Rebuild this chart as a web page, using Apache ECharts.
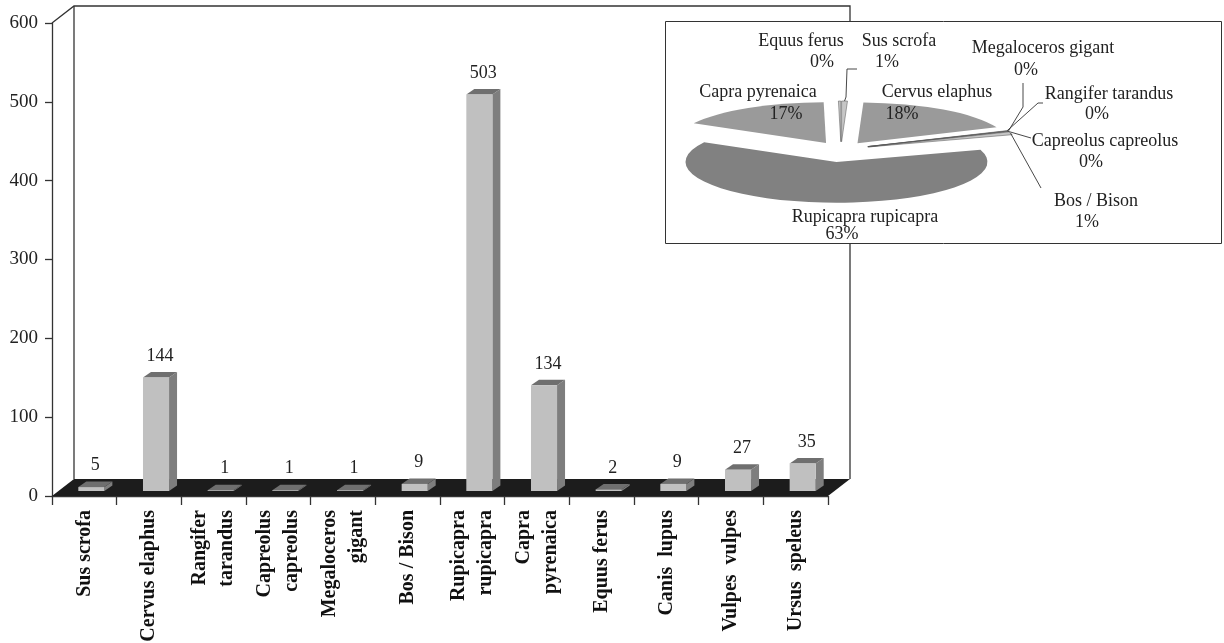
<!DOCTYPE html>
<html>
<head>
<meta charset="utf-8">
<script src="https://cdn.jsdelivr.net/npm/echarts@6/dist/echarts.min.js"></script>
<style>
  html, body { margin: 0; padding: 0; background: #fff; }
  #chart { width: 1224px; height: 643px; }
</style>
</head>
<body>
<div id="chart"></div>
<script>
// ---- data ----
const categories = ['Sus scrofa', 'Cervus elaphus', 'Rangifer\ntarandus', 'Capreolus\ncapreolus',
  'Megaloceros\ngigant', 'Bos / Bison', 'Rupicapra\nrupicapra', 'Capra\npyrenaica',
  'Equus ferus', 'Canis  lupus', 'Vulpes  vulpes', 'Ursus  speleus'];
const counts = [5, 144, 1, 1, 1, 9, 503, 134, 2, 9, 27, 35];
const yMin = 0, yMax = 600, yStep = 100;

// herbivores only, clockwise from 12 o'clock
const pieNames = ['Sus scrofa', 'Cervus elaphus', 'Rangifer tarandus', 'Capreolus capreolus',
  'Megaloceros gigant', 'Bos / Bison', 'Rupicapra rupicapra', 'Capra pyrenaica', 'Equus ferus'];
const pieValues = [5, 144, 1, 1, 1, 9, 503, 134, 2];

// ---- styling / layout ----
const SERIF = "'Liberation Serif', 'Times New Roman', serif";
const DEPTH = { dx: 22, dy: 17 };          // floor / wall depth
const BAR = { dx: 8, dy: 5.5, lift: 5 };   // bar depth and its position in the floor
const PIE = { cx: 841, cy: 149.6, r: 151, k: 0.27 };
const pieExplode = [29, 29, 29, 29, 29, 29, 46, 29, 29];
const pieFill = ['#c6c6c6', '#9a9a9a', '#c6c6c6', '#c6c6c6', '#c6c6c6', '#c6c6c6', '#818181', '#9a9a9a', '#c6c6c6'];
const pieNamePos = [[899, 41], [937, 92], [1109, 94], [1105, 141], [1043, 48], [1096, 201], [865, 217], [758, 92], [801, 41]];
const piePctPos = [[887, 62], [902, 114], [1097, 114], [1091, 162], [1026, 70], [1087, 222], [842, 234], [786, 114], [822, 62]];
const pieLeader = [[[857, 69], [847, 69], [846, 97]], null, [[1043, 103], [1038, 103]], [[1031, 138]],
  [[1023, 83], [1023, 107]], [[1041, 188]], null, null, null];

const pieTotal = pieValues.reduce((a, b) => a + b, 0);
const pieStart = [];
pieValues.reduce((acc, v) => { pieStart.push(90 - acc / pieTotal * 360); return acc + v; }, 0);

function textEl(x, y, text, opt) {
  return {
    type: 'text', x: x, y: y,
    style: Object.assign({
      text: text, fill: '#222', fontFamily: SERIF, fontSize: 18,
      textAlign: 'center', textVerticalAlign: 'middle', align: 'center', verticalAlign: 'middle'
    }, opt || {})
  };
}

// back wall and dark floor of the 3-D plot area
function renderFrame(params) {
  const cs = params.coordSys;
  const L = cs.x, R = cs.x + cs.width, T = cs.y, B = cs.y + cs.height;
  const dx = DEPTH.dx, dy = DEPTH.dy;
  const line = { stroke: '#333', lineWidth: 1.3, fill: null };
  return {
    type: 'group',
    children: [
      { type: 'polygon', shape: { points: [[L, B], [R, B], [R + dx, B - dy], [L + dx, B - dy]] }, style: { fill: '#1c1c1c' } },
      { type: 'polyline', shape: { points: [[L, T], [L + dx, T - dy], [R + dx, T - dy], [R + dx, B - dy]] }, style: line },
      { type: 'line', shape: { x1: L + dx, y1: T - dy, x2: L + dx, y2: B - dy }, style: line }
    ]
  };
}

// 3-D column: front face, side, top and the value above it
function renderBar(params, api) {
  const i = api.value(0), v = api.value(1);
  const base = api.coord([i, 0]);
  const top = api.coord([i, v]);
  const band = api.size([1, 0])[0];
  const x0 = base[0] - band * 0.093, x1 = base[0] + band * 0.31;
  const yb = base[1] - BAR.lift, yt = top[1] - BAR.lift;
  const dx = BAR.dx, dy = BAR.dy;
  return {
    type: 'group',
    children: [
      { type: 'polygon', shape: { points: [[x1, yb], [x1, yt], [x1 + dx, yt - dy], [x1 + dx, yb - dy]] }, style: { fill: '#7e7e7e' } },
      { type: 'polygon', shape: { points: [[x0, yt], [x1, yt], [x1 + dx, yt - dy], [x0 + dx, yt - dy]] }, style: { fill: '#6f6f6f' } },
      { type: 'rect', shape: { x: x0, y: yt, width: x1 - x0, height: Math.max(yb - yt, 0.8) }, style: { fill: '#c0c0c0' } },
      textEl((x0 + x1) / 2 + 4, yt - dy - 7, String(v), { textVerticalAlign: 'bottom', verticalAlign: 'bottom' })
    ]
  };
}

// tilted, exploded pie drawn as squashed sectors
function renderPie(params, api) {
  const idx = params.dataIndex;
  const v = api.value(0);
  const a0 = pieStart[idx];
  const a1 = a0 - v / pieTotal * 360;
  const mid = (a0 + a1) / 2 * Math.PI / 180;
  const d = pieExplode[idx];
  const rad = Math.PI / 180;
  const small = v / pieTotal < 0.02;
  const children = [{
    type: 'group', x: PIE.cx, y: PIE.cy, scaleY: PIE.k,
    children: [{
      type: 'sector',
      shape: { cx: d * Math.cos(mid), cy: -d * Math.sin(mid), r: PIE.r, r0: 0,
        startAngle: -a0 * rad, endAngle: -a1 * rad, clockwise: true },
      style: { fill: pieFill[idx], stroke: small ? '#555' : null, lineWidth: small ? 0.8 : 0 }
    }]
  }];
  const tip = [PIE.cx + (d + PIE.r) * Math.cos(mid), PIE.cy - (d + PIE.r) * Math.sin(mid) * PIE.k];
  if (pieLeader[idx]) {
    children.push({ type: 'polyline', shape: { points: pieLeader[idx].concat([tip]) },
      style: { stroke: '#333', lineWidth: 0.9, fill: null } });
  }
  children.push(textEl(pieNamePos[idx][0], pieNamePos[idx][1], pieNames[idx]));
  children.push(textEl(piePctPos[idx][0], piePctPos[idx][1], Math.round(v / pieTotal * 100) + '%'));
  return { type: 'group', children: children };
}

const chart = echarts.init(document.getElementById('chart'), null, { renderer: 'canvas' });
chart.setOption({
  animation: false,
  backgroundColor: '#fff',
  grid: { left: 52, right: 396, top: 23, bottom: 147, containLabel: false, outerBoundsMode: 'none' },
  xAxis: {
    type: 'category',
    data: categories,
    axisLine: { show: true, lineStyle: { color: '#333', width: 1.3 } },
    axisTick: { show: true, length: 9, interval: 0, lineStyle: { color: '#333', width: 1.3 } },
    axisLabel: {
      interval: 0, rotate: 90, margin: 14, color: '#111', padding: [10, 0, 0, 0],
      fontFamily: SERIF, fontWeight: 'bold', fontSize: 20, lineHeight: 27
    },
    splitLine: { show: false }
  },
  yAxis: {
    type: 'value', min: yMin, max: yMax, interval: yStep,
    axisLine: { show: true, lineStyle: { color: '#333', width: 1.3 } },
    axisTick: { show: true, length: 7, lineStyle: { color: '#333', width: 1.3 } },
    axisLabel: { margin: 14, color: '#222', fontFamily: SERIF, fontSize: 19 },
    splitLine: { show: false }
  },
  graphic: [{
    type: 'rect', z: 10,
    shape: { x: 665.5, y: 21.5, width: 556, height: 222 },
    style: { fill: '#fff', stroke: '#333', lineWidth: 1 }
  }],
  series: [
    { type: 'custom', name: 'frame', coordinateSystem: 'cartesian2d', z: 1, silent: true,
      data: [[0, 0]], renderItem: renderFrame },
    { type: 'custom', name: 'counts', coordinateSystem: 'cartesian2d', z: 3,
      data: counts.map((v, i) => [i, v]), renderItem: renderBar },
    { type: 'custom', name: 'share', coordinateSystem: 'none', z: 20,
      data: pieValues, renderItem: renderPie }
  ]
});
</script>
</body>
</html>
